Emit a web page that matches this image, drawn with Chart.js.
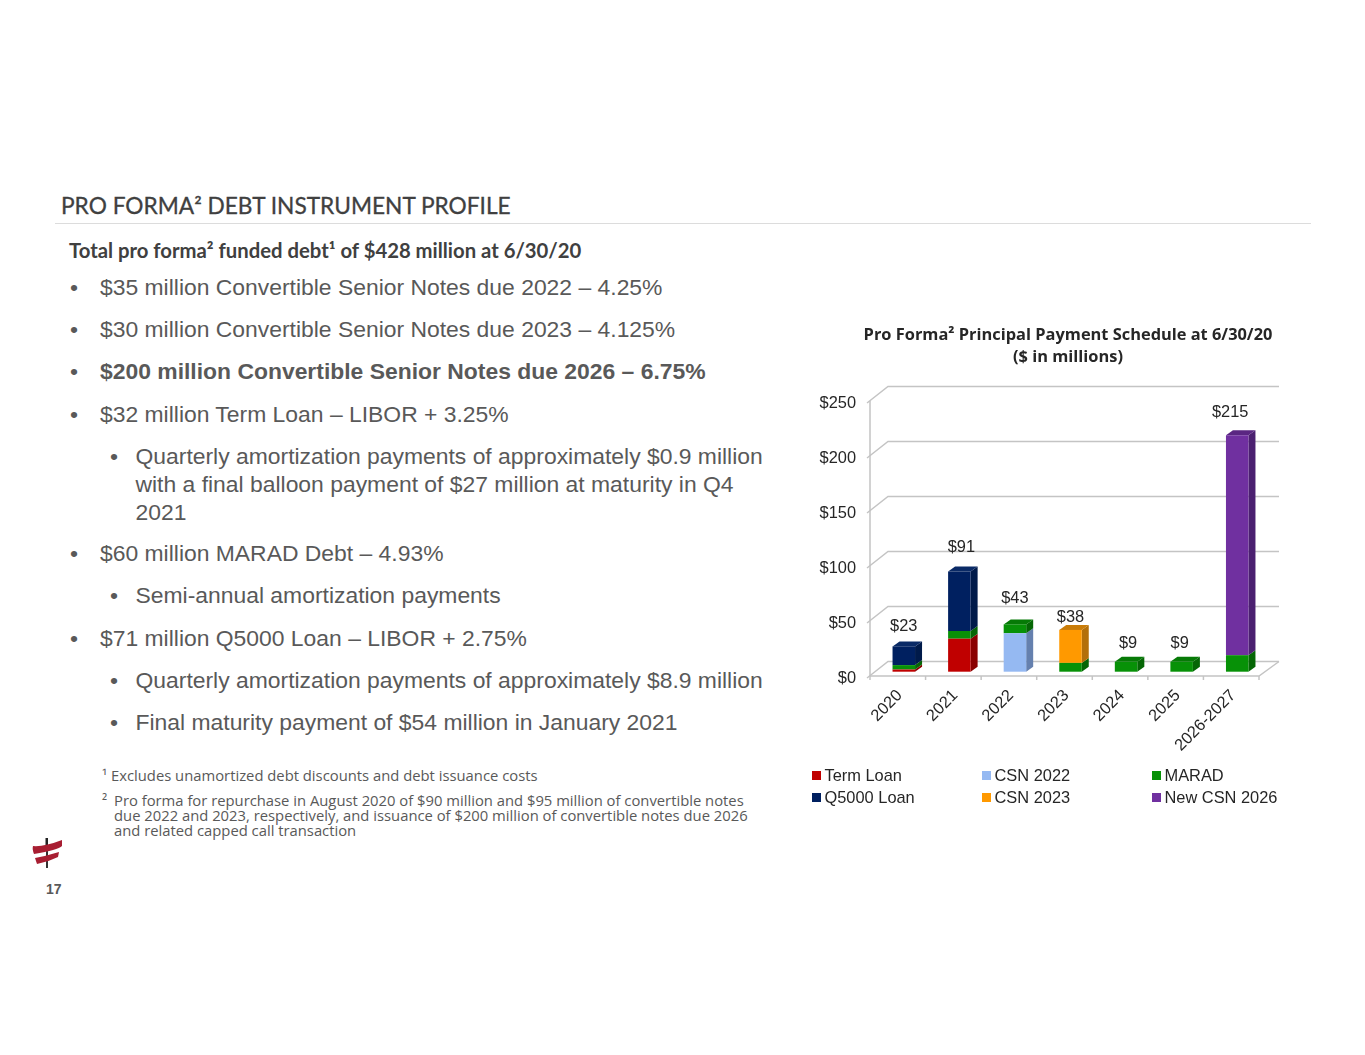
<!DOCTYPE html>
<html>
<head>
<meta charset="utf-8">
<title>Pro Forma Debt Instrument Profile</title>
<script src="https://cdn.jsdelivr.net/npm/chart.js@4/dist/chart.umd.min.js"></script>
<style>
  html, body { margin: 0; padding: 0; background: #fff; }
  body { width: 1365px; height: 1055px; position: relative; overflow: hidden; }
  .t { position: absolute; white-space: nowrap; font-family: "Liberation Sans", Arial, sans-serif; color: #595959; font-size: 22.9px; line-height: 28px; }
  .head { font-family: Lato, sans-serif; color: #404040; }
  .note { font-family: "Open Sans", sans-serif; font-size: 14.8px; line-height: 15px; }
  #rule { position: absolute; left: 55px; top: 223px; width: 1256px; height: 1px; background: #dcdcdc; }
  #chartBox { position: absolute; left: 800px; top: 320px; }
  #logo { position: absolute; left: 30px; top: 835px; }
</style>
</head>
<body>
<div class="t head" style="left:61px;top:192px;font-size:22.7px;-webkit-text-stroke:0.3px #404040;">PRO FORMA² DEBT INSTRUMENT PROFILE</div>
<div id="rule"></div>
<div class="t head" style="left:69px;top:236px;font-size:20.3px;font-weight:700;">Total pro forma² funded debt¹ of $428 million at 6/30/20</div>

<div class="t" style="left:70px;top:272.5px;">•</div><div class="t" style="left:100px;top:272.5px;">$35 million Convertible Senior Notes due 2022 – 4.25%</div>
<div class="t" style="left:70px;top:314.5px;">•</div><div class="t" style="left:100px;top:314.5px;">$30 million Convertible Senior Notes due 2023 – 4.125%</div>
<div class="t" style="left:70px;top:356.5px;">•</div><div class="t" style="left:100px;top:356.5px;font-weight:700;">$200 million Convertible Senior Notes due 2026 – 6.75%</div>
<div class="t" style="left:70px;top:399.5px;">•</div><div class="t" style="left:100px;top:399.5px;">$32 million Term Loan – LIBOR + 3.25%</div>
<div class="t" style="left:110px;top:441.5px;">•</div><div class="t" style="left:135.5px;top:441.5px;">Quarterly amortization payments of approximately $0.9 million<br>with a final balloon payment of $27 million at maturity in Q4<br>2021</div>
<div class="t" style="left:70px;top:538.5px;">•</div><div class="t" style="left:100px;top:538.5px;">$60 million MARAD Debt – 4.93%</div>
<div class="t" style="left:110px;top:580.5px;">•</div><div class="t" style="left:135.5px;top:580.5px;">Semi-annual amortization payments</div>
<div class="t" style="left:70px;top:623.5px;">•</div><div class="t" style="left:100px;top:623.5px;">$71 million Q5000 Loan – LIBOR + 2.75%</div>
<div class="t" style="left:110px;top:665.5px;">•</div><div class="t" style="left:135.5px;top:665.5px;">Quarterly amortization payments of approximately $8.9 million</div>
<div class="t" style="left:110px;top:707.5px;">•</div><div class="t" style="left:135.5px;top:707.5px;">Final maturity payment of $54 million in January 2021</div>

<div class="t note" style="left:102px;top:768px;">¹ Excludes unamortized debt discounts and debt issuance costs</div>
<div class="t note" style="left:102px;top:793px;">²</div>
<div class="t note" style="left:114px;top:793px;">Pro forma for repurchase in August 2020 of $90 million and $95 million of convertible notes<br>due 2022 and 2023, respectively, and issuance of $200 million of convertible notes due 2026<br>and related capped call transaction</div>

<svg id="logo" width="36" height="36" viewBox="0 0 36 36">
  <rect x="15.5" y="3" width="2.5" height="8" fill="#222"/>
  <rect x="16" y="11" width="2" height="22" fill="#333"/>
  <path d="M3 11 Q14 12 32 5 L32 11 Q28 15 4 19 Q2 14 3 11 Z" fill="#a81e32"/>
  <path d="M5 23 Q16 21 29 17 L28 22 Q18 27 7 29 Z" fill="#a81e32"/>
</svg>
<div class="t" style="left:46px;top:881px;font-size:14px;line-height:16px;font-weight:700;">17</div>

<div id="chartBox"><canvas id="debtChart" width="500" height="500"></canvas></div>

<script>
const categories = ["2020", "2021", "2022", "2023", "2024", "2025", "2026-2027"];
const termLoan = [2, 30, 0, 0, 0, 0, 0];
const csn2022 = [0, 0, 35, 0, 0, 0, 0];
const marad = [4, 7, 8, 8, 9, 9, 15];
const q5000Loan = [17, 54, 0, 0, 0, 0, 0];
const csn2023 = [0, 0, 0, 30, 0, 0, 0];
const newCsn2026 = [0, 0, 0, 0, 0, 0, 200];
const totals = [23, 91, 43, 38, 9, 9, 215];
const yTicks = [0, 50, 100, 150, 200, 250];
const titleLines = ["Pro Forma² Principal Payment Schedule at 6/30/20", "($ in millions)"];

const FONT = '16.4px "Liberation Sans", Arial, sans-serif';
const TEXT = "#262626";
const WALL = "#c4c4c4";
// fake 3D, same numbers as the slide
const WALL_DX = 18, WALL_DY = 14.5;
const WALL_LIFT = 2; // tick labels sit 2px lower than the lines
const BAR_SHIFT_X = 6, BAR_SHIFT_Y = 6.3;
const BAR_DX = 7, BAR_DY = 5;
// where the $ labels sit relative to the top of each bar
const labelNudgeX = [0, 2, 0, 0, 2, -2, -7];
const labelNudgeY = [20, 24, 26, 12, 18, 18, 23];

// Vẽ stacked theo thứ tự này, MARAD nằm dưới CSN 2023 nhưng trên CSN 2022
const series = [
  { label: "Term Loan", data: termLoan, color: "#c00000", side: "#8a0000", top: "#a00000" },
  { label: "CSN 2022", data: csn2022, color: "#95b9f2", side: "#6580ae", top: "#7f9fd0" },
  { label: "MARAD", data: marad, color: "#079107", side: "#056605", top: "#067a06" },
  { label: "Q5000 Loan", data: q5000Loan, color: "#002060", side: "#001a4a", top: "#0a2a66" },
  { label: "CSN 2023", data: csn2023, color: "#ff9900", side: "#b36f0a", top: "#c97c08" },
  { label: "New CSN 2026", data: newCsn2026, color: "#7030a0", side: "#4b2070", top: "#5a2682" }
];

function poly(ctx, pts, fill) {
  ctx.beginPath();
  pts.forEach((p, i) => (i ? ctx.lineTo(p[0], p[1]) : ctx.moveTo(p[0], p[1])));
  ctx.closePath();
  ctx.fillStyle = fill;
  ctx.fill();
}

const slide3d = {
  id: "slide3d",
  beforeDatasetsDraw(chart) {
    const { ctx, chartArea: a, scales: { y } } = chart;
    ctx.save();
    ctx.translate(0, -WALL_LIFT);
    ctx.strokeStyle = WALL;
    ctx.lineWidth = 1.5;
    yTicks.forEach((v) => {
      const py = y.getPixelForValue(v);
      ctx.beginPath();
      ctx.moveTo(a.left - 3, py + 2);
      ctx.lineTo(a.left + WALL_DX, py - WALL_DY);
      ctx.lineTo(a.right + WALL_DX + 2, py - WALL_DY);
      ctx.stroke();
    });
    ctx.beginPath();
    ctx.moveTo(a.left, y.getPixelForValue(250));
    ctx.lineTo(a.left, a.bottom);
    ctx.lineTo(a.right, a.bottom);
    ctx.lineTo(a.right + WALL_DX + 2, a.bottom - WALL_DY);
    ctx.stroke();
    const step = (a.right - a.left) / categories.length;
    for (let i = 0; i <= categories.length; i++) {
      ctx.beginPath();
      ctx.moveTo(a.left + step * i, a.bottom);
      ctx.lineTo(a.left + step * i, a.bottom + 4);
      ctx.stroke();
    }
    ctx.restore();

    // cạnh bên và mặt trên của cột
    ctx.save();
    ctx.translate(BAR_SHIFT_X, -BAR_SHIFT_Y);
    categories.forEach((c, i) => {
      let last = null;
      series.forEach((s, n) => {
        if (!s.data[i]) return;
        const bar = chart.getDatasetMeta(n).data[i];
        const r = bar.x + bar.width / 2;
        poly(ctx, [[r, bar.y], [r + BAR_DX, bar.y - BAR_DY], [r + BAR_DX, bar.base - BAR_DY], [r, bar.base]], s.side);
        last = { bar, s };
      });
      if (last) {
        const l = last.bar.x - last.bar.width / 2, r = last.bar.x + last.bar.width / 2, t = last.bar.y;
        poly(ctx, [[l, t], [l + BAR_DX, t - BAR_DY], [r + BAR_DX, t - BAR_DY], [r, t]], last.s.top);
      }
    });
    ctx.restore();

    ctx.save();
    ctx.translate(BAR_SHIFT_X, -BAR_SHIFT_Y);
  },
  afterDatasetsDraw(chart) {
    const { ctx, scales: { x, y } } = chart;
    ctx.restore();

    ctx.save();
    ctx.font = FONT;
    ctx.fillStyle = TEXT;
    ctx.textAlign = "center";
    ctx.textBaseline = "middle";
    totals.forEach((v, i) => {
      const px = x.getPixelForValue(i) + BAR_SHIFT_X + labelNudgeX[i];
      const py = y.getPixelForValue(v) - BAR_SHIFT_Y - labelNudgeY[i];
      ctx.fillText("$" + v, px, py);
    });
    ctx.restore();
  },
  afterDraw(chart) {
    const { ctx } = chart;
    ctx.save();
    // title
    ctx.fillStyle = "#262626";
    ctx.font = '700 16.4px "Open Sans", sans-serif';
    ctx.textAlign = "center";
    ctx.textBaseline = "middle";
    titleLines.forEach((line, i) => ctx.fillText(line, 268, 15 + i * 22));
    // legend, 3 cột 2 hàng
    ctx.font = FONT;
    ctx.textAlign = "left";
    series.forEach((s, i) => {
      const col = i % 3, row = i < 3 ? 0 : 1;
      const lx = 12 + col * 170, ly = 456 + row * 22;
      ctx.fillStyle = s.color;
      ctx.fillRect(lx, ly - 5, 9, 9);
      ctx.fillStyle = TEXT;
      ctx.fillText(s.label, lx + 12.5, ly);
    });
    ctx.restore();
  }
};

new Chart(document.getElementById("debtChart"), {
  type: "bar",
  data: {
    labels: categories,
    datasets: series.map((s) => ({
      label: s.label,
      data: s.data,
      backgroundColor: s.color,
      borderWidth: 0,
      barPercentage: 0.405,
      categoryPercentage: 1,
      clip: false
    }))
  },
  options: {
    responsive: false,
    animation: false,
    layout: { padding: { top: 83, right: 41, bottom: 0, left: 0 } },
    plugins: { legend: { display: false }, tooltip: { enabled: false } },
    scales: {
      x: {
        stacked: true,
        afterFit: (s) => { s.height = 142; },
        grid: { display: false, drawTicks: false },
        border: { display: false },
        ticks: { color: TEXT, font: { family: '"Liberation Sans"', size: 16.4 }, minRotation: 45, maxRotation: 45, padding: 8, labelOffset: 2 }
      },
      y: {
        stacked: true,
        min: 0,
        max: 250,
        afterFit: (s) => { s.width = 70; },
        afterBuildTicks: (s) => { s.ticks = yTicks.map((v) => ({ value: v })); },
        grid: { display: false, drawTicks: false },
        border: { display: false },
        ticks: { color: TEXT, font: { family: '"Liberation Sans"', size: 16.4 }, padding: 14, callback: (v) => "$" + v }
      }
    }
  },
  plugins: [slide3d]
});
</script>
</body>
</html>
